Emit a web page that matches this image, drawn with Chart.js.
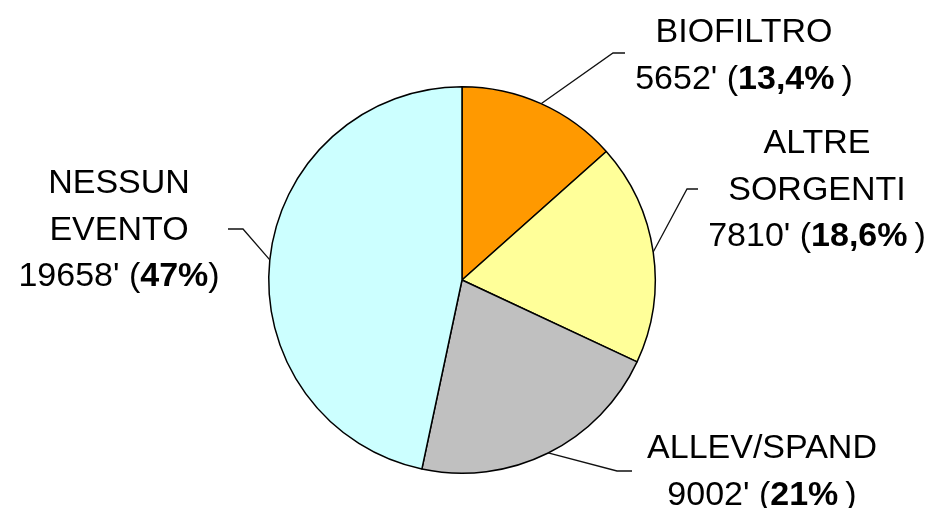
<!DOCTYPE html>
<html>
<head>
<meta charset="utf-8">
<script src="https://cdn.jsdelivr.net/npm/chart.js@4.4.1/dist/chart.umd.min.js"></script>
<style>
  html, body { margin: 0; padding: 0; background: #fff; }
  #wrap { width: 934px; height: 508px; position: relative; }
</style>
</head>
<body>
<div id="wrap"><canvas id="chart"></canvas></div>
<script>
// slices, clockwise from 12 o'clock
const labels = [['BIOFILTRO'], ['ALTRE', 'SORGENTI'], ['ALLEV/SPAND'], ['NESSUN', 'EVENTO']];
const minutes = [5652, 7810, 9002, 19658];
const shares = ['13,4%', '18,6%', '21%', '47%'];
const colors = ['#FF9900', '#FFFF99', '#C0C0C0', '#CCFFFF'];

// where each label block sits (text centre x, first baseline y), leader elbow, gap before ')'
const labelLayout = [
  { x: 744, y: 42, elbow: [613, 53], end: [625, 53], gap: 7 },
  { x: 817, y: 153, elbow: [687, 189], end: [698, 189], gap: 7 },
  { x: 762, y: 458, elbow: [617, 471], end: [632, 471], gap: 7 },
  { x: 119, y: 193, elbow: [243, 229], end: [228, 229], gap: 0 },
];

const FONT = '"Liberation Sans", Arial, sans-serif';
const SIZE = 34;
const LINE_H = 46.5;

const pieLabels = {
  id: 'pieLabels',
  afterDraw(chart) {
    const ctx = chart.ctx;
    const meta = chart.getDatasetMeta(0);
    ctx.save();
    meta.data.forEach((arc, i) => {
      const p = arc.getProps(['x', 'y', 'startAngle', 'endAngle', 'outerRadius'], true);
      const mid = (p.startAngle + p.endAngle) / 2;
      const sx = p.x + Math.cos(mid) * p.outerRadius;
      const sy = p.y + Math.sin(mid) * p.outerRadius;
      const lay = labelLayout[i];

      ctx.strokeStyle = '#111';
      ctx.lineWidth = 1.3;
      ctx.beginPath();
      ctx.moveTo(sx, sy);
      ctx.lineTo(lay.elbow[0], lay.elbow[1]);
      ctx.lineTo(lay.end[0], lay.end[1]);
      ctx.stroke();

      ctx.fillStyle = '#000';
      ctx.textBaseline = 'alphabetic';
      ctx.textAlign = 'left';
      const lines = labels[i];
      lines.forEach((t, k) => {
        ctx.font = `${SIZE}px ${FONT}`;
        const w = ctx.measureText(t).width;
        ctx.fillText(t, lay.x - w / 2, lay.y + k * LINE_H);
      });

      // value line: normal minutes, bold share
      const parts = [
        { t: `${minutes[i]}' (`, bold: false, pad: 0 },
        { t: shares[i], bold: true, pad: lay.gap },
        { t: ')', bold: false, pad: 0 },
      ];
      let total = 0;
      parts.forEach((pt) => {
        ctx.font = `${pt.bold ? 'bold ' : ''}${SIZE}px ${FONT}`;
        pt.w = ctx.measureText(pt.t).width + pt.pad;
        total += pt.w;
      });
      let cx = lay.x - total / 2;
      const by = lay.y + lines.length * LINE_H;
      parts.forEach((pt) => {
        ctx.font = `${pt.bold ? 'bold ' : ''}${SIZE}px ${FONT}`;
        ctx.fillText(pt.t, cx, by);
        cx += pt.w;
      });
    });
    ctx.restore();
  },
};

new Chart(document.getElementById('chart'), {
  type: 'pie',
  data: {
    labels: labels.map((l) => l.join(' ')),
    datasets: [{
      data: minutes,
      backgroundColor: colors,
      borderColor: '#000',
      borderWidth: 1.5,
    }],
  },
  options: {
    responsive: true,
    maintainAspectRatio: false,
    animation: false,
    layout: {
      padding: { top: 86, bottom: 34, left: 268, right: 278 },
    },
    plugins: {
      legend: { display: false },
      tooltip: { enabled: false },
    },
  },
  plugins: [pieLabels],
});
</script>
</body>
</html>
